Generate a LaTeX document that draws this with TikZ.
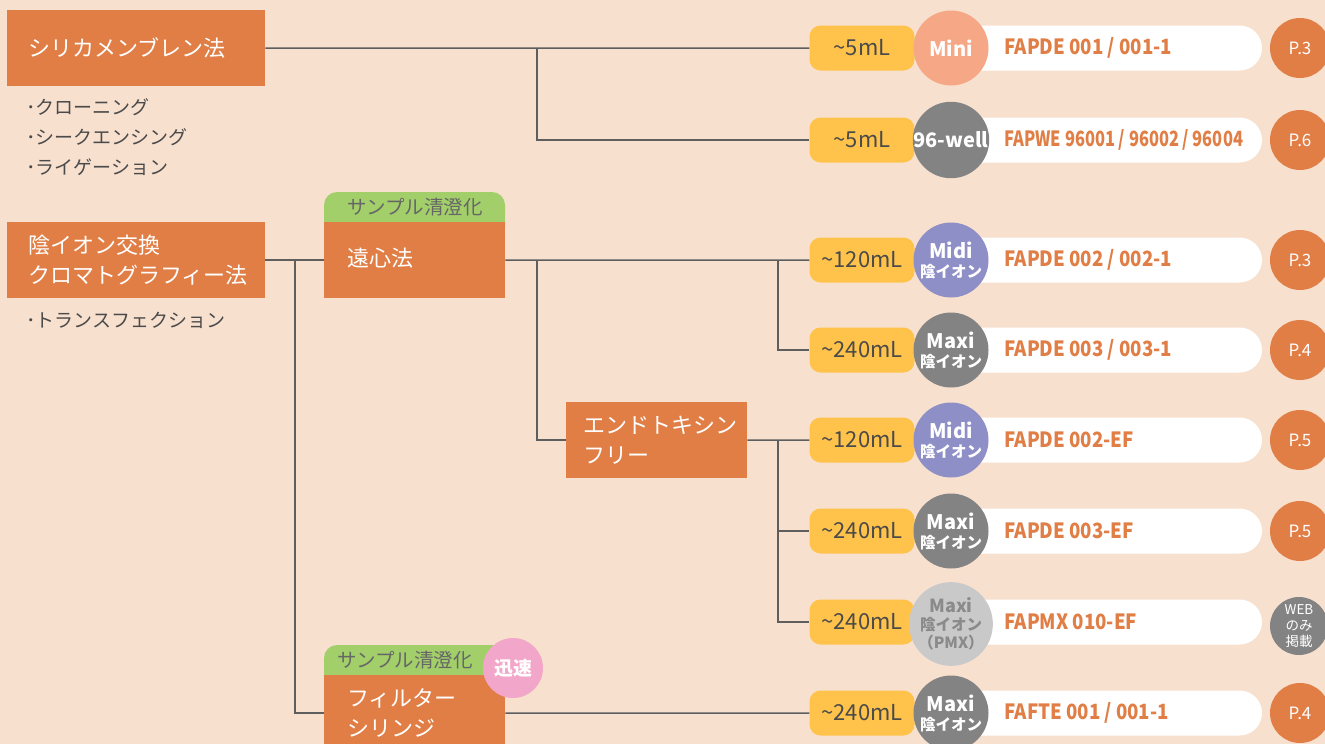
\documentclass[tikz,border=0pt]{standalone}
\usepackage{fontspec}
\setmainfont{Noto Sans CJK JP}
\newfontfamily\prodfont{Noto Sans CJK JP}[FakeStretch=0.89]
\usepackage{tikz}
\usetikzlibrary{positioning}
\definecolor{bgPeach}{HTML}{F8E0CF}
\definecolor{boxOrange}{HTML}{E07E46}
\definecolor{tabGreen}{HTML}{A2CF6A}
\definecolor{tabText}{HTML}{666666}
\definecolor{volYellow}{HTML}{FFC34C}
\definecolor{darkText}{HTML}{4A4A4A}
\definecolor{lineGray}{HTML}{5E5E5E}
\definecolor{miniSalmon}{HTML}{F6A886}
\definecolor{wellGray}{HTML}{838383}
\definecolor{midiLavender}{HTML}{8F8FC8}
\definecolor{pmxGray}{HTML}{C9C9C9}
\definecolor{pmxText}{HTML}{8A8A8A}
\definecolor{fastPink}{HTML}{F2A6C9}
\newcommand{\kitsub}{\bfseries\fontsize{15.5}{18}\selectfont}

\begin{document}
\begin{tikzpicture}[x=1pt, y=-1pt,
  method/.style={fill=boxOrange, text=white, anchor=north west, minimum height=76pt, inner ysep=0pt, align=left, font=\fontsize{22}{30}\selectfont},
  note/.style={text=darkText, anchor=west, inner sep=0pt, align=left, font=\fontsize{19}{30}\selectfont},
  tabtext/.style={text=tabText, inner sep=0pt, font=\fontsize{19.5}{20}\selectfont},
  conn/.style={draw=lineGray, line width=1.5pt},
  vol/.style={fill=volYellow, text=darkText, rounded corners=11pt, minimum width=105pt, minimum height=45pt, inner sep=0pt, font=\fontsize{22}{24}\selectfont},
  pill/.style={fill=white, rounded corners=22.5pt, minimum width=322pt, minimum height=45pt, inner sep=0pt},
  kit/.style={circle, text=white, minimum size=75pt, inner sep=0pt, align=center, font=\bfseries\fontsize{20}{22}\selectfont},
  prod/.style={anchor=west, text=boxOrange, inner sep=0pt, font=\prodfont\bfseries\fontsize{21}{24}\selectfont},
  page/.style={circle, fill=boxOrange, text=white, minimum size=60pt, inner sep=0pt, align=center, font=\fontsize{17}{18}\selectfont}]
 	\useasboundingbox (0,0) rectangle (1325,744);
 	\clip (0,0) rectangle (1325,744);
 	\fill[bgPeach] (0,0) rectangle (1325,744);
 	% left column
 	\node[method, text width=216pt, inner xsep=21pt] (silica) at (7,10) {シリカメンブレン法};
 	\node[note] (uses1) at (26,137) {･クローニング\\･シークエンシング\\･ライゲーション};
 	\node[method, text width=216pt, inner xsep=21pt] (anion) at (7,222) {陰イオン交換\\クロマトグラフィー法};
 	\node[note] (uses2) at (26,320) {･トランスフェクション};
 	% middle column
 	\fill[tabGreen, rounded corners=13pt] (324,240) -- (324,192) -- (505,192) -- (505,240) -- cycle;
 	\node[tabtext] (tab1) at (415,207) {サンプル清澄化};
 	\node[method, text width=135pt, inner xsep=23pt] (spin) at (324,222) {\raisebox{5pt}{遠心法}};
 	\node[method, text width=147pt, inner xsep=17pt] (endo) at (566,402) {エンドトキシン\\フリー};
 	\fill[tabGreen, rounded corners=13pt] (324,690) -- (324,645) -- (505,645) -- (505,690) -- cycle;
 	\node[tabtext] (tab2) at (405,660) {サンプル清澄化};
 	\node[method, text width=135pt, inner xsep=23pt] (filter) at (324,675) {フィルター\\シリンジ};
 	\node[circle, fill=fastPink, text=white, minimum size=60pt, inner sep=0pt, font=\bfseries\fontsize{19}{20}\selectfont] (fast) at (513,668) {迅速};
 	% volumes
 	\node[vol] (v1) at (862,48) {\textasciitilde5mL};
 	\node[vol] (v2) at (862,140) {\textasciitilde5mL};
 	\node[vol] (v3) at (862,260) {\textasciitilde120mL};
 	\node[vol] (v4) at (862,350) {\textasciitilde240mL};
 	\node[vol] (v5) at (862,440) {\textasciitilde120mL};
 	\node[vol] (v6) at (862,531) {\textasciitilde240mL};
 	\node[vol] (v7) at (862,622) {\textasciitilde240mL};
 	\node[vol] (v8) at (862,713) {\textasciitilde240mL};
 	% connectors
 	\coordinate (j1) at (537,48);
 	\coordinate (j2) at (295,260);
 	\coordinate (j3) at (537,260);
 	\coordinate (j4) at (778,260);
 	\coordinate (j5) at (778,440);
 	\draw[conn] (silica.east) -- (v1.west);
 	\draw[conn] (j1) |- (v2.west);
 	\draw[conn] (anion.east) -- (spin.west);
 	\draw[conn] (j2) |- (filter.west);
 	\draw[conn] (spin.east) -- (v3.west);
 	\draw[conn] (j3) |- (endo.west);
 	\draw[conn] (j4) |- (v4.west);
 	\draw[conn] (endo.east) -- (v5.west);
 	\draw[conn] (j5) |- (v6.west);
 	\draw[conn] (j5) |- (v7.west);
 	\draw[conn] (filter.east) -- (v8.west);
 	% kits
 	\node[pill] (w1) at (1101,48) {};
 	\node[pill] (w2) at (1101,140) {};
 	\node[pill] (w3) at (1101,260) {};
 	\node[pill] (w4) at (1101,350) {};
 	\node[pill] (w5) at (1101,440) {};
 	\node[pill] (w6) at (1101,531) {};
 	\node[pill] (w7) at (1101,622) {};
 	\node[pill] (w8) at (1101,713) {};
 	\node[kit, fill=miniSalmon] (c1) at (951,48) {Mini};
 	\node[kit, fill=wellGray] (c2) at (951,140) {96-well};
 	\node[kit, fill=midiLavender] (c3) at (951,260) {Midi\\[-3pt]{\kitsub 陰イオン}};
 	\node[kit, fill=wellGray] (c4) at (951,350) {Maxi\\[-3pt]{\kitsub 陰イオン}};
 	\node[kit, fill=midiLavender] (c5) at (951,440) {Midi\\[-3pt]{\kitsub 陰イオン}};
 	\node[kit, fill=wellGray] (c6) at (951,531) {Maxi\\[-3pt]{\kitsub 陰イオン}};
 	\node[kit, fill=pmxGray, text=pmxText, font=\bfseries\fontsize{18}{18}\selectfont] (c7) at (951,624) {Maxi\\{\kitsub 陰イオン}\\{\kitsub （PMX）}};
 	\node[kit, fill=wellGray] (c8) at (951,713) {Maxi\\[-3pt]{\kitsub 陰イオン}};
 	\node[prod] (n1) at (1004,48) {FAPDE 001 / 001-1};
 	\node[prod] (n2) at (1004,140) {\scalebox{0.88}[1]{FAPWE 96001 / 96002 / 96004}};
 	\node[prod] (n3) at (1004,260) {FAPDE 002 / 002-1};
 	\node[prod] (n4) at (1004,350) {FAPDE 003 / 003-1};
 	\node[prod] (n5) at (1004,440) {FAPDE 002-EF};
 	\node[prod] (n6) at (1004,531) {FAPDE 003-EF};
 	\node[prod] (n7) at (1004,622) {FAPMX 010-EF};
 	\node[prod] (n8) at (1004,713) {FAFTE 001 / 001-1};
 	% pages
 	\node[page] (p1) at (1300,48) {P.3};
 	\node[page] (p2) at (1300,140) {P.6};
 	\node[page] (p3) at (1300,260) {P.3};
 	\node[page] (p4) at (1300,350) {P.4};
 	\node[page] (p5) at (1300,440) {P.5};
 	\node[page] (p6) at (1300,531) {P.5};
 	\node[page, fill=wellGray, minimum size=58pt, font=\fontsize{13.5}{16}\selectfont] (p7) at (1299,626) {WEB\\のみ\\掲載};
 	\node[page] (p8) at (1300,713) {P.4};
\end{tikzpicture}
\end{document}
